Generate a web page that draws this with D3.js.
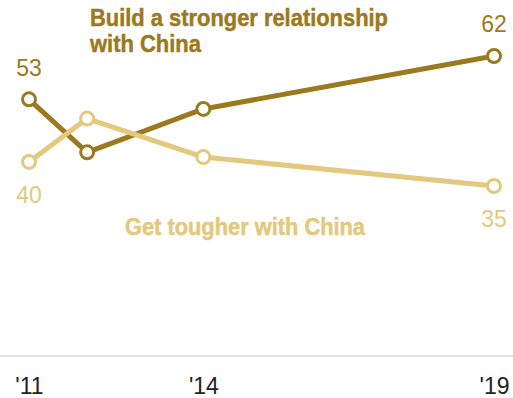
<!DOCTYPE html>
<html>
<head>
<meta charset="utf-8">
<script src="https://cdn.jsdelivr.net/npm/d3@7"></script>
<style>
  html, body { margin: 0; padding: 0; background: #fff; }
  svg { display: block; }
  text { font-family: "Liberation Sans", Arial, sans-serif; }
</style>
</head>
<body>
<svg id="chart" width="513" height="398"></svg>
<script>
// Survey years and shares (%) choosing each approach toward China
const years = [2011, 2012, 2014, 2019];
const strongerValues = [53, 42, 51, 62];
const tougherValues = [40, 49, 41, 35];
const tickYears = [2011, 2014, 2019];
const tickLabels = ["'11", "'14", "'19"];
const strongerLabel = ["Build a stronger relationship", "with China"];
const tougherLabel = ["Get tougher with China"];

const darkGold = "#9b7a1f";
const lightGold = "#e3c87e";

const svg = d3.select("#chart");

const x = d3.scaleLinear().domain([2011, 2019]).range([29, 494]);
const y = d3.scaleLinear().domain([0, 62]).range([354.5, 56]);

// baseline
svg.append("line")
  .attr("x1", 0).attr("x2", 513)
  .attr("y1", 356).attr("y2", 356)
  .attr("stroke", "#d9d9d9").attr("stroke-width", 1.5);

// x-axis tick labels
const axis = d3.axisBottom(x)
  .tickValues(tickYears)
  .tickSize(0)
  .tickFormat((d, i) => tickLabels[i]);
const gAxis = svg.append("g").attr("transform", "translate(0,356)").call(axis);
gAxis.select(".domain").remove();
gAxis.selectAll("text")
  .attr("dy", null)
  .attr("y", 38)
  .attr("font-size", 23)
  .attr("font-family", "'Liberation Sans', Arial, sans-serif")
  .attr("fill", "#222");

const line = d3.line().x((d, i) => x(years[i])).y(d => y(d));

function drawSeries(values, color) {
  svg.append("path")
    .datum(values)
    .attr("d", line)
    .attr("fill", "none")
    .attr("stroke", color)
    .attr("stroke-width", 5)
    .attr("stroke-linejoin", "round");
  svg.append("g").selectAll("circle")
    .data(values)
    .join("circle")
    .attr("cx", (d, i) => x(years[i]))
    .attr("cy", d => y(d))
    .attr("r", 6.5)
    .attr("fill", "#fff")
    .attr("stroke", color)
    .attr("stroke-width", 3);
}

drawSeries(strongerValues, darkGold);
drawSeries(tougherValues, lightGold);

// endpoint value labels
const last = years.length - 1;
const valueLabels = [
  { v: strongerValues[0], yr: years[0], dy: -23, color: darkGold },
  { v: strongerValues[last], yr: years[last], dy: -24, color: darkGold },
  { v: tougherValues[0], yr: years[0], dy: 41, color: lightGold },
  { v: tougherValues[last], yr: years[last], dy: 41, color: lightGold }
];
svg.append("g").selectAll("text")
  .data(valueLabels)
  .join("text")
  .attr("x", d => x(d.yr))
  .attr("y", d => y(d.v) + d.dy)
  .attr("text-anchor", "middle")
  .attr("font-size", 23)
  .attr("fill", d => d.color)
  .text(d => d.v);

// series labels (condensed heavy lettering)
function seriesLabel(lines, x0, y0, widths, color) {
  svg.append("g").selectAll("text")
    .data(lines)
    .join("text")
    .attr("x", x0)
    .attr("y", (d, i) => y0 + i * 26)
    .attr("font-weight", "bold")
    .attr("font-size", 24)
    .attr("fill", color)
    .attr("stroke", color)
    .attr("stroke-width", 0.5)
    .attr("textLength", (d, i) => widths[i])
    .attr("lengthAdjust", "spacingAndGlyphs")
    .text(d => d);
}
seriesLabel(strongerLabel, 90, 26, [298, 111], darkGold);
seriesLabel(tougherLabel, 125, 235, [240], lightGold);
</script>
</body>
</html>
